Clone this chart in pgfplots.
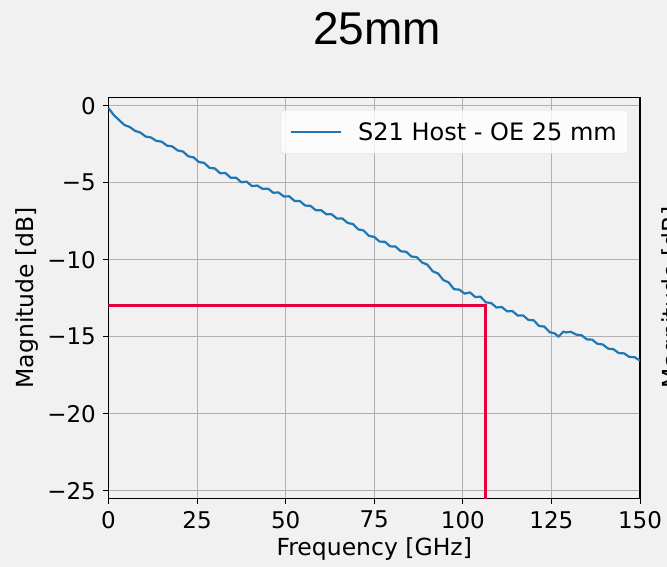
\documentclass[border=0pt]{standalone}
\usepackage{fontspec}
\setmainfont{DejaVu Sans}
\newfontfamily\titlefont{Liberation Sans}
\usepackage{pgfplots}
\pgfplotsset{compat=1.18}
\definecolor{bg}{RGB}{241,241,241}
\definecolor{mplblue}{HTML}{1F77B4}
\definecolor{redline}{HTML}{E4003A}
\definecolor{gridgray}{HTML}{B0B0B0}
\definecolor{legframe}{RGB}{214,214,214}
\pgfplotstableread{
x y
0 -0.15
1.5 -0.61
3 -0.93
4.5 -1.25
6 -1.38
7.5 -1.63
9 -1.74
10.5 -2.00
12 -2.06
13.5 -2.28
15 -2.33
16.5 -2.59
18 -2.64
19.5 -2.90
21 -2.97
22.5 -3.28
24 -3.35
25.5 -3.65
27 -3.71
28.5 -4.03
30 -4.07
31.5 -4.38
33 -4.37
34.5 -4.68
36 -4.67
37.5 -4.97
39 -4.93
40.5 -5.22
42 -5.18
43.5 -5.40
45 -5.38
46.5 -5.65
48 -5.63
49.5 -5.89
51 -5.88
52.5 -6.18
54 -6.19
55.5 -6.48
57 -6.50
58.5 -6.78
60 -6.78
61.5 -7.05
63 -7.05
64.5 -7.33
66 -7.32
67.5 -7.61
69 -7.68
70.5 -8.03
72 -8.10
73.5 -8.45
75 -8.52
76.5 -8.82
78 -8.83
79.5 -9.13
81 -9.14
82.5 -9.45
84 -9.48
85.5 -9.79
87 -9.83
88.5 -10.18
90 -10.32
91.5 -10.75
93 -10.89
94.5 -11.32
96 -11.47
97.5 -11.91
99 -11.94
100.5 -12.20
102 -12.12
103.5 -12.42
105 -12.40
106.5 -12.77
108 -12.81
109.5 -13.10
111 -13.07
112.5 -13.35
114 -13.33
115.5 -13.63
117 -13.61
118.5 -13.91
120 -13.93
121.5 -14.30
123 -14.34
124.5 -14.70
126 -14.79
127 -15.00
128.4 -14.66
129 -14.72
130.5 -14.68
132 -14.86
133.5 -14.90
135 -15.17
136.5 -15.19
138 -15.46
139.5 -15.50
141 -15.77
142.5 -15.81
144 -16.06
145.5 -16.08
147 -16.31
148.5 -16.33
150 -16.55
}\sdata
\begin{document}
\begin{tikzpicture}[x=1pt,y=1pt]
\fill[bg] (0,0) rectangle (667,567);
\useasboundingbox (0,0) rectangle (667,567);
\node[anchor=base,inner sep=0pt] at (377,522) {\titlefont\fontsize{46}{46}\selectfont 25mm};
\begin{scope}
\clip (0,0) rectangle (667,567);
\node[anchor=base,rotate=90,inner sep=0pt] at (679,269.5) {\fontsize{23.5}{23.5}\selectfont Magnitude [dB]};
\end{scope}
\begin{axis}[
  at={(108.5pt,68.7pt)}, anchor=south west,
  scale only axis, width=531.5pt, height=401pt,
  xmin=0, xmax=150, ymin=-25.49, ymax=0.55,
  xtick={0,25,50,75,100,125,150},
  xticklabels={0,25,50,75,100,125,150},
  ytick={-25,-20,-15,-10,-5,0},
  yticklabels={−25,−20,−15,−10,−5,0},
  tick pos=left, tick align=outside, major tick length=5.5pt,
  tick style={black, line width=1pt},
  axis line style={black, line width=1.2pt},
  grid=major, grid style={gridgray, line width=1pt},
  ticklabel style={font=\fontsize{23}{23}\selectfont},
  xticklabel style={inner sep=0pt, yshift=-7pt},
  yticklabel style={inner sep=0pt, xshift=-7pt},
  xlabel={Frequency [GHz]}, ylabel={Magnitude [dB]},
  label style={font=\fontsize{23.5}{23.5}\selectfont},
  xlabel style={at={(axis description cs:0.5,0)}, anchor=base, yshift=-57.5pt, inner sep=0pt},
  ylabel style={at={(axis description cs:0,0.5)}, anchor=base, inner sep=0pt, yshift=74.5pt},
  legend style={at={(axis description cs:0.9774,0.9683)}, anchor=north east,
    fill=white, fill opacity=0.8, text opacity=1, draw=legframe, rounded corners=3pt,
    font=\fontsize{24}{24}\selectfont, inner xsep=9pt, inner ysep=10pt,
    nodes={inner sep=2pt}},
  legend cell align=left,
  legend image code/.code={\draw[#1] (0pt,0pt) -- (50pt,0pt);},
  clip=true,
]
\addplot[mplblue, line width=2.2pt, line join=round] table[x=x,y=y] {\sdata};
\addlegendentry{\hspace{14pt}S21 Host - OE 25 mm}
\addplot[redline, line width=3pt, forget plot, line join=miter] coordinates {(0,-13) (106.5,-13) (106.5,-26)};
\end{axis}
\end{tikzpicture}
\end{document}
